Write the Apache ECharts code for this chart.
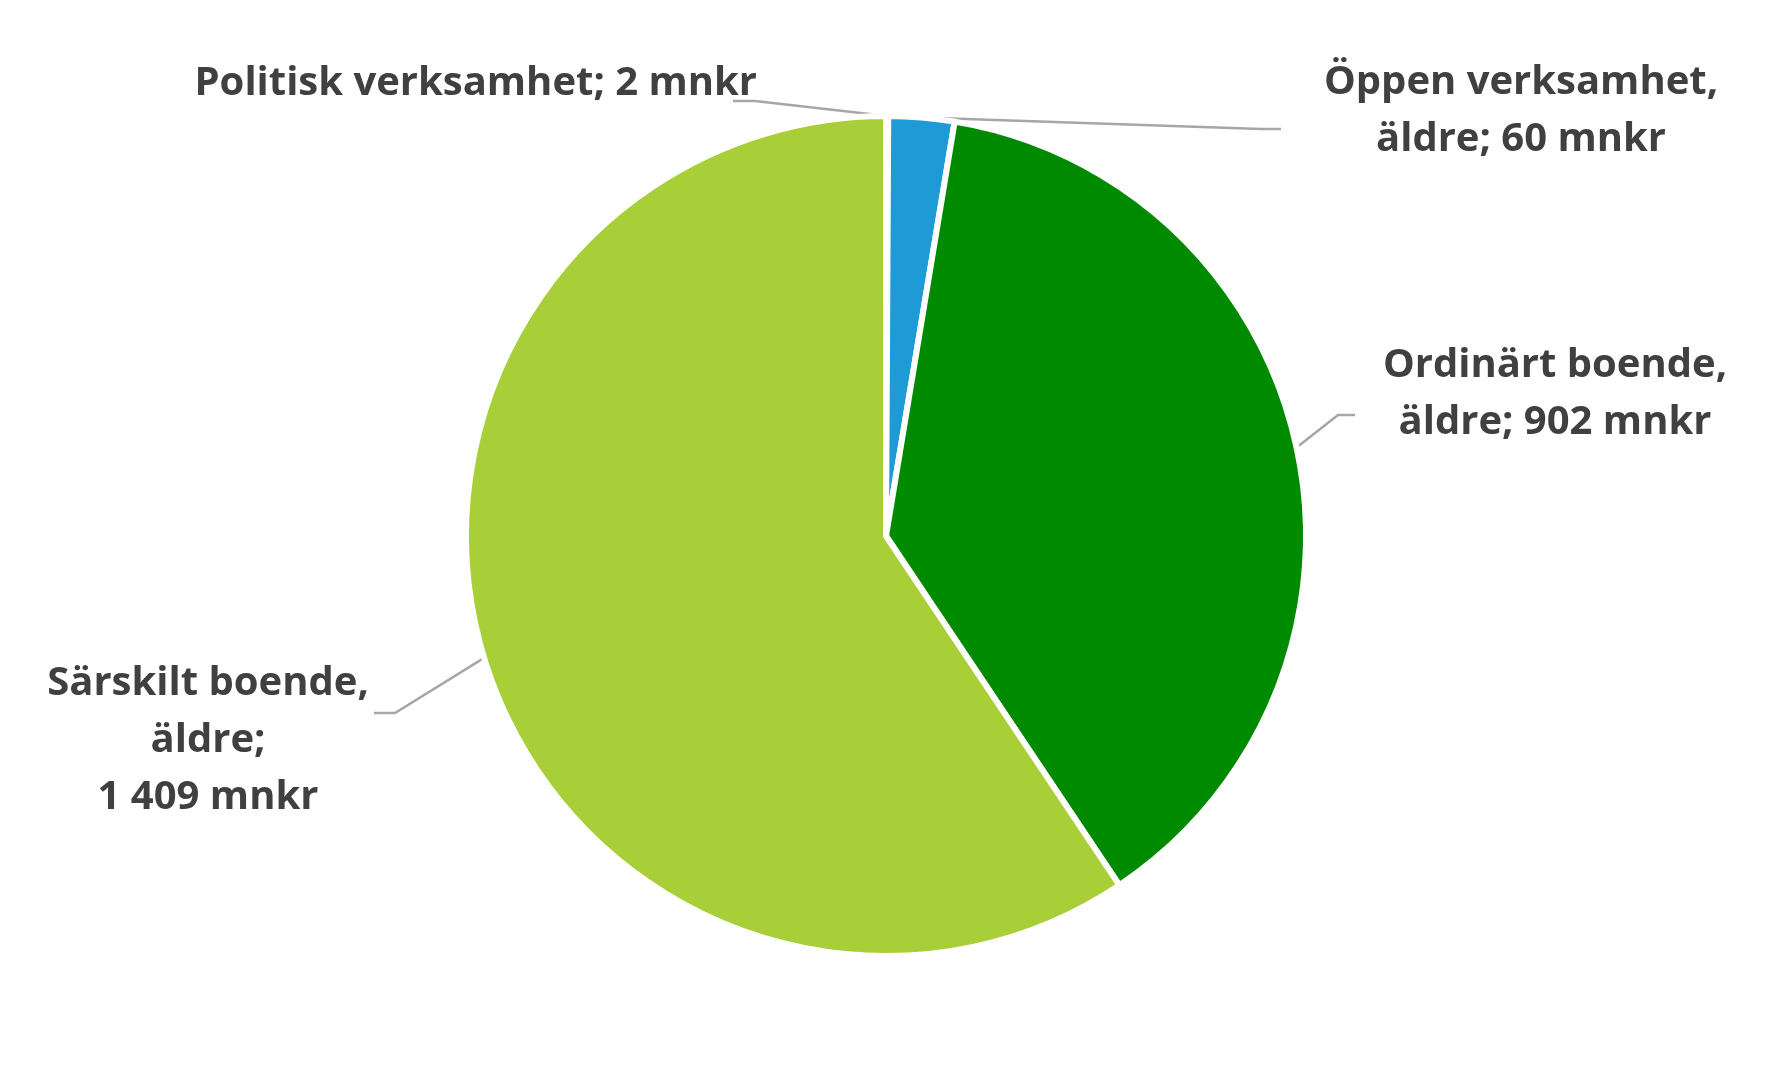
<!DOCTYPE html>
<html><head><meta charset="utf-8">
<script src="https://cdn.jsdelivr.net/npm/echarts@6/dist/echarts.min.js"></script>
<style>html,body{margin:0;padding:0;background:#fff}#c{width:1773px;height:1073px}</style>
</head><body><div id="c"></div>
<script>
const categories = ['Politisk verksamhet', 'Öppen verksamhet, äldre', 'Ordinärt boende, äldre', 'Särskilt boende, äldre'];
const values = [2, 60, 902, 1409];
const labelTexts = ['Politisk verksamhet; 2 mnkr', 'Öppen verksamhet,\näldre; 60 mnkr', 'Ordinärt boende,\näldre; 902 mnkr', 'Särskilt boende,\näldre;\n1 409 mnkr'];
const colors = ['#1F5C99', '#1E9BD7', '#008A00', '#A8CF38'];

const labelPos = [
  {x: 757, y: 84, align: 'right', bend: [755, 101], end: [733, 101]},
  {x: 1521, y: 111, align: 'center', bend: [1261, 129], end: [1281, 129]},
  {x: 1555, y: 394, align: 'center', bend: [1338, 415], end: [1355, 415]},
  {x: 208, y: 741, align: 'center', bend: [395, 713], end: [374, 713]}
];

const chart = echarts.init(document.getElementById('c'), null, {renderer: 'canvas'});
chart.setOption({
  animation: false,
  series: [{
    type: 'pie',
    center: [886, 536],
    radius: 420,
    startAngle: 90,
    clockwise: true,
    avoidLabelOverlap: false,
    itemStyle: {borderColor: '#fff', borderWidth: 6},
    label: {
      show: true,
      position: 'outside',
      formatter: p => labelTexts[p.dataIndex],
      color: '#404040',
      fontFamily: 'Open Sans',
      fontWeight: 'bold',
      fontSize: 40,
      lineHeight: 57
    },
    labelLine: {show: true, lineStyle: {color: '#A6A6A6', width: 2.5}, length: 20, length2: 20},
    labelLayout: function (params) {
      const lp = labelPos[params.dataIndex];
      const start = params.labelLinePoints ? params.labelLinePoints[0] : lp.bend;
      return {
        x: lp.x, y: lp.y, align: lp.align, verticalAlign: 'middle',
        labelLinePoints: [start, lp.bend, lp.end]
      };
    },
    data: categories.map((n, i) => ({name: n, value: values[i], itemStyle: {color: colors[i]}}))
  }]
});
</script></body></html>
